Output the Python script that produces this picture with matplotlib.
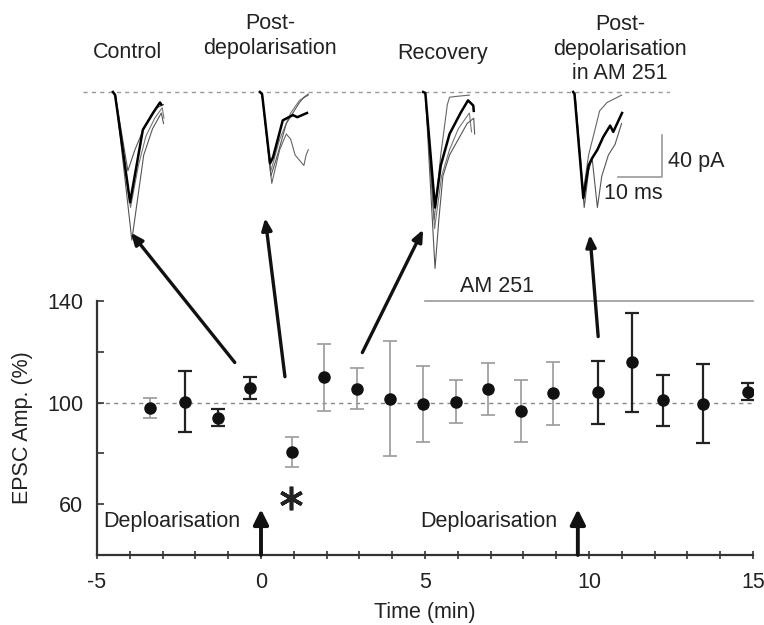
import matplotlib
matplotlib.use("Agg")
import matplotlib.pyplot as plt
from matplotlib.patches import ConnectionPatch
import numpy as np

plt.rcParams['font.family'] = ['Liberation Sans', 'DejaVu Sans']
plt.rcParams['axes.unicode_minus'] = False

# ---------------- data ----------------
time_min = [-3.37, -2.33, -1.31, -0.35, 0.94, 1.93, 2.94, 3.92, 4.93, 5.94,
            6.92, 7.94, 8.91, 10.28, 11.32, 12.27, 13.47, 14.84]
epsc_amp = [97.9, 100.3, 94.0, 105.8, 80.5, 110.0, 105.5, 101.6, 99.6, 100.3,
            105.5, 96.6, 103.6, 104.0, 115.9, 100.9, 99.6, 104.3]
epsc_err = [3.8, 12.0, 3.4, 4.3, 6.0, 13.2, 8.0, 22.5, 15.0, 8.5,
            10.2, 12.3, 12.5, 12.5, 19.5, 10.0, 15.6, 3.4]
err_dark = [False, True, True, True, False, False, False, False, False, False,
            False, False, False, True, True, True, True, True]

depol_times = [0.0, 9.66]
am251_span = [5.0, 15.0]
am251_level = 140
baseline_pct = 100
sig_time, sig_level = 0.92, 62.5

# example EPSC traces (time ms from stimulus, current pA)
trace_onsets = [6.8, 40.2, 77.3, 111.4]
trace_titles = ["Control", "Post-\ndepolarisation", "Recovery",
                "Post-\ndepolarisation\nin AM 251"]
traces = [
    [  # Control
        ([0, 0.5, 3.9, 5.5, 6.8, 9.1, 10.7, 11.0], [0, -3, -105, -67, -36, -20, -10, -12], 'k', 1.8),
        ([0, 0.6, 4.3, 6.0, 7.0, 9.0, 11.0, 11.5], [0, -3, -141, -90, -60, -35, -20, -30], '#555555', 0.8),
        ([0, 0.5, 3.4, 5.0, 7.0, 10.0, 11.5], [0, -2, -75, -55, -35, -15, -12], '#555555', 0.8),
        ([0, 0.5, 4.0, 5.8, 7.5, 9.5, 11.2, 11.6], [0, -2, -110, -70, -42, -25, -15, -25], '#777777', 0.8),
    ],
    [  # Post-depolarisation
        ([0, 0.5, 2.3, 3.0, 5.2, 7.5, 8.5, 10.7], [0, -2, -68, -62, -27, -22, -24, -20], 'k', 1.8),
        ([0, 0.5, 2.5, 4.0, 6.0, 9.0, 10.0, 11.0], [0, -2, -80, -60, -30, -10, -5, -2], '#555555', 0.8),
        ([0, 0.5, 2.7, 4.5, 6.0, 7.0, 8.0, 9.0, 10.0, 10.5, 11.0], [0, -2, -87, -55, -40, -45, -60, -65, -70, -60, -55], '#666666', 0.8),
        ([0, 0.5, 2.5, 4.5, 7.0, 9.0, 11.0], [0, -2, -75, -45, -20, -8, -3], '#777777', 0.8),
    ],
    [  # Recovery
        ([0, 0.5, 2.7, 4.0, 6.0, 8.5, 10.2, 11.4, 11.5], [0, -1, -110, -70, -40, -20, -8, -13, -18], 'k', 1.8),
        ([0, 0.5, 2.7, 3.6, 4.5, 6.0, 8.0, 10.0, 11.5, 11.7], [0, -1, -168, -120, -80, -60, -45, -30, -25, -40], '#555555', 0.8),
        ([0, 0.5, 2.5, 4.0, 5.5, 6.0, 8.0, 10.5], [0, -1, -122, -60, -12, -5, -4, -3], '#666666', 0.8),
        ([0, 0.5, 2.6, 4.2, 6.0, 8.0, 10.5, 11.0], [0, -1, -130, -80, -55, -35, -20, -38], '#777777', 0.8),
    ],
    [  # Post-depolarisation in AM 251
        ([0, 0.3, 2.3, 3.5, 4.3, 5.5, 6.8, 8.4, 9.1, 11.1], [0, -2, -101, -70, -63, -55, -43, -32, -38, -20], 'k', 1.8),
        ([0, 0.4, 2.5, 3.5, 4.3, 5.5, 6.5, 8.0, 9.5, 11.0], [0, -2, -110, -75, -63, -110, -80, -60, -50, -30], '#555555', 0.8),
        ([0, 0.4, 2.3, 3.5, 5.0, 6.0, 7.7, 11.0], [0, -2, -95, -60, -35, -18, -10, -3], '#666666', 0.8),
    ],
]
scale_ms, scale_pA = 10, 40

# ---------------- figure ----------------
W, H = 764, 625
FS = 15.5
fig = plt.figure(figsize=(W / 100, H / 100), dpi=100)

def px_axes(x0, y0, x1, y1):
    return [x0 / W, 1 - y1 / H, (x1 - x0) / W, (y1 - y0) / H]

ax = fig.add_axes(px_axes(97, 301, 753, 555))
ax.set_xlim(-5, 15)
ax.set_ylim(40, 140)
for s in ['top', 'right']:
    ax.spines[s].set_visible(False)
for s in ['left', 'bottom']:
    ax.spines[s].set_linewidth(1.6)
    ax.spines[s].set_color('#333333')
ax.patch.set_alpha(0)

ax.set_xticks([-5, 0, 5, 10, 15])
ax.set_xticks(np.arange(-5, 16, 1), minor=True)
ax.set_yticks([60, 100, 140])
ax.set_yticks([80, 120], minor=True)
ax.tick_params(axis='x', which='both', direction='inout', length=6, width=1.2,
               colors='#333333', labelsize=FS, pad=9, labelcolor='#222222')
ax.tick_params(axis='y', which='both', direction='in', length=5, width=1.2,
               colors='#333333', labelsize=FS, pad=10, labelcolor='#222222')
ax.set_xlabel("Time (min)", fontsize=FS, color='#222222', labelpad=7)
ax.set_ylabel("EPSC Amp. (%)", fontsize=FS, color='#222222', labelpad=10)

ax.plot([-5, 15], [baseline_pct, baseline_pct], color='#888888', lw=1.0,
        dashes=(3, 3), zorder=1)

t = np.array(time_min); a = np.array(epsc_amp); e = np.array(epsc_err)
d = np.array(err_dark)
ax.errorbar(t[d], a[d], yerr=e[d], fmt='none', ecolor='#222222', elinewidth=1.6,
            capsize=5, capthick=1.6, zorder=2)
ax.errorbar(t[~d], a[~d], yerr=e[~d], fmt='none', ecolor='#9a9a9a', elinewidth=1.2,
            capsize=5, capthick=1.2, zorder=2)
ax.plot(t, a, 'o', color='#111111', ms=8, zorder=3)

# AM 251 bar
ax.plot(am251_span, [am251_level, am251_level], color='#999999', lw=1.2, clip_on=False)
ax.text(7.2, 145.6, "AM 251", ha='center', va='center', fontsize=FS, color='#222222')

# depolarisation arrows
for dt in depol_times:
    ax.annotate("", xy=(dt, 58), xytext=(dt, 40),
                arrowprops=dict(arrowstyle='-|>,head_length=0.9,head_width=0.45',
                                color='#111111', lw=2.8, shrinkA=0, shrinkB=0))
    ax.text(dt - 0.62, 53.2, "Deploarisation", ha='right', va='center',
            fontsize=FS, color='#222222')

ax.plot([sig_time], [sig_level], marker=(6, 2, 0), ms=17, mew=2.6, color='#222222',
        linestyle='none')

# ---------------- traces ----------------
tax = fig.add_axes(px_axes(83, 80, 670, 280))
tax.set_xlim(0, 133.4)
tax.set_ylim(-179, 11.4)
tax.axis('off')
tax.plot([0, 133.4], [0, 0], color='#999999', lw=1.0, dashes=(3, 3))
for onset, group in zip(trace_onsets, traces):
    for tt, ii, col, lw in reversed(group):
        tax.plot(np.array(tt) + onset, ii, color=col, lw=lw, solid_joinstyle='round')

sb_x, sb_y = 131.6, -81
tax.plot([sb_x - scale_ms, sb_x, sb_x], [sb_y, sb_y, sb_y + scale_pA], color='#999999', lw=1.2)
tax.text(sb_x + 1.4, sb_y + scale_pA / 2 - 5, f"{scale_pA} pA", ha='left', va='center',
         fontsize=FS, color='#222222')
tax.text(sb_x - scale_ms / 2 - 1.5, sb_y - 16, f"{scale_ms} ms", ha='center', va='center',
         fontsize=FS, color='#222222')

# titles (pixel positions of centres)
title_x = [128, 270, 443, 620]
title_cy = [53, 36, 53, 49]
for tx, ty, title in zip(title_x, title_cy, trace_titles):
    fig.text(tx / W, 1 - ty / H, title, ha='center', va='center', fontsize=FS,
             color='#222222', linespacing=1.2, multialignment='center')

# arrows from data to traces
arrow_tails = [(-0.8, 115.8), (0.73, 110.2), (3.09, 119.7), (10.28, 126.0)]
arrow_heads = [(10.9, -134), (41.4, -120), (77.3, -131), (115.2, -136)]
for (x0, y0), (x1, y1) in zip(arrow_tails, arrow_heads):
    cp = ConnectionPatch(xyA=(x0, y0), coordsA=ax.transData,
                         xyB=(x1, y1), coordsB=tax.transData,
                         arrowstyle='-|>,head_length=0.7,head_width=0.3',
                         color='#111111', lw=2.4, shrinkA=0, shrinkB=0)
    fig.add_artist(cp)

fig.savefig("out.png", dpi=100)
